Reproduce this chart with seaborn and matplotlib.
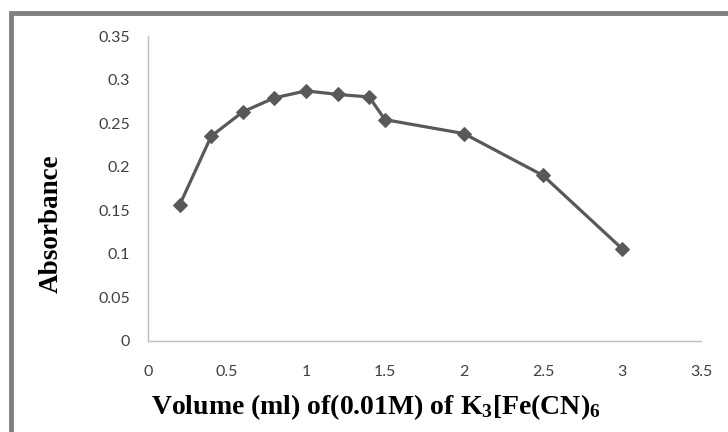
import seaborn as sns
import matplotlib.pyplot as plt
import matplotlib.patches as patches
import matplotlib.ticker as mticker
import pandas as pd

# Dati
volume = [0.2, 0.4, 0.6, 0.8, 1.0, 1.2, 1.4, 1.5, 2.0, 2.5, 3.0]
absorbance = [0.156, 0.235, 0.263, 0.279, 0.287, 0.283, 0.280, 0.254, 0.238, 0.190, 0.106]

x_ticks = [0, 0.5, 1, 1.5, 2, 2.5, 3, 3.5]
y_ticks = [0, 0.05, 0.1, 0.15, 0.2, 0.25, 0.3, 0.35]

df = pd.DataFrame({"volume": volume, "absorbance": absorbance})

sns.set_theme(style="white")
plt.rcParams['font.family'] = ['Lato', 'DejaVu Sans']
plt.rcParams['mathtext.fontset'] = 'custom'
plt.rcParams['mathtext.rm'] = 'Liberation Serif:bold'
plt.rcParams['mathtext.default'] = 'rm'

fig = plt.figure(figsize=(7.28, 4.32), dpi=100)
ax = fig.add_axes([148 / 728, 1 - 341 / 432, 553 / 728, 305 / 432])

sns.lineplot(data=df, x="volume", y="absorbance", ax=ax, color="#595959",
             linewidth=2.3, marker="D", markersize=7,
             markeredgecolor="#595959", markerfacecolor="#595959")

ax.set_xlim(0, 3.5)
ax.set_ylim(0, 0.35)
ax.set_xticks(x_ticks)
ax.set_yticks(y_ticks)
ax.xaxis.set_major_formatter(mticker.FormatStrFormatter('%g'))
ax.yaxis.set_major_formatter(mticker.FormatStrFormatter('%g'))

for side in ["top", "right"]:
    ax.spines[side].set_visible(False)
for side in ["left", "bottom"]:
    ax.spines[side].set_color("#bfbfbf")
    ax.spines[side].set_linewidth(1.0)

ax.tick_params(axis="both", which="major", direction="out", length=5,
               width=1.0, color="#bfbfbf", labelsize=11.5, labelcolor="#404040")
ax.tick_params(axis="x", pad=12)
ax.tick_params(axis="y", pad=8)

# Etichette degli assi
ax.set_xlabel("Volume (ml) of(0.01M) of K$_3$[Fe(CN)$_6$", fontsize=20,
              fontfamily="Liberation Serif", fontweight="bold", color="black")
ax.xaxis.set_label_coords((376 - 148) / 553, (341 - 392) / 305)
ax.set_ylabel("Absorbance", fontsize=19.5, fontfamily="Liberation Serif",
              fontweight="bold", color="black")
ax.yaxis.set_label_coords((64 - 148) / 553, (341 - 224) / 305)

# Cornice grigia del grafico
frame = patches.Rectangle((11 / 728, -0.2), 1.2, 1 - 13 / 432 + 0.2,
                          transform=fig.transFigure, fill=False,
                          edgecolor="#808080", linewidth=3.5, clip_on=False)
fig.add_artist(frame)

fig.savefig("out.png", dpi=100)
